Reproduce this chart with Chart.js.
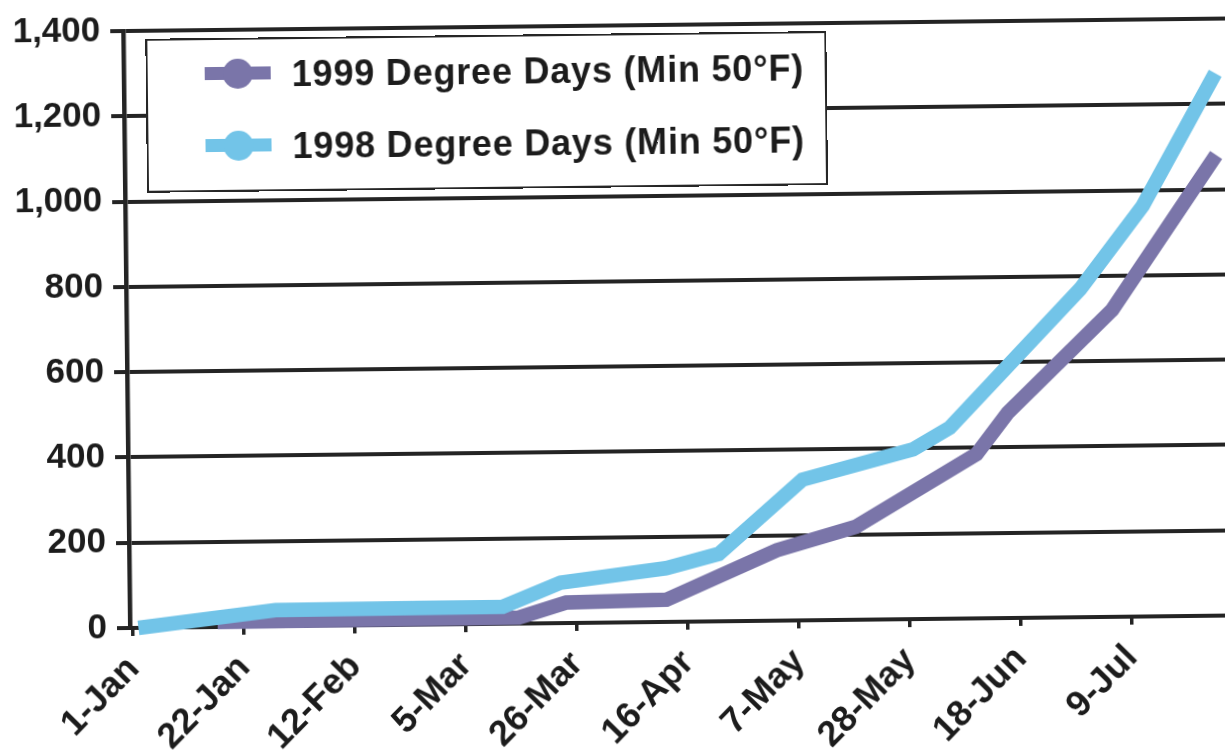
<!DOCTYPE html>
<html>
<head>
<meta charset="utf-8">
<title>Degree Days (Min 50°F)</title>
<script src="https://cdn.jsdelivr.net/npm/chart.js@4.4.1/dist/chart.umd.min.js"></script>
<style>
  html, body { margin: 0; padding: 0; background: #fff; width: 1225px; height: 756px; overflow: hidden; }
  #page { position: absolute; left: 0; top: 0; width: 1232px; height: 756px;
          transform-origin: 130px 628px; transform: rotate(-0.65deg); }
  #chart { position: absolute; left: 0; top: 0; }
  #legendBox { position: absolute; left: 152px; top: 39px; width: 681px; height: 154px;
               box-sizing: border-box; border: 2px solid #262626; background: #fff; }
  .legendRow { position: absolute; left: 0; height: 40px; }
  .legendLine { position: absolute; left: 211px; width: 66px; height: 13px; top: 13.5px; }
  .legendDot { position: absolute; left: 229px; width: 30px; height: 30px; top: 5px; border-radius: 50%; }
  .legendText { position: absolute; left: 298px; top: 0; line-height: 40px; white-space: nowrap;
                font: bold 36px "Liberation Sans", Arial, sans-serif; letter-spacing: 0.8px; color: #1c1c1c; }
</style>
</head>
<body>
<div id="page">
  <canvas id="chart" width="1232" height="756"></canvas>
  <div id="legendBox"></div>
</div>
<script>
// Cumulative degree days (base 50°F), read at the dates each series was recorded.
const dates1999  = ['17-Jan', '15-Mar', '24-Mar', '12-Apr', '3-May', '18-May', '10-Jun', '16-Jun', '6-Jul', '26-Jul'];
const values1999 = [12, 14, 48, 52, 165, 218, 385, 481, 720, 1080];

const dates1998  = ['2-Jan', '28-Jan', '12-Mar', '23-Mar', '12-Apr', '22-Apr', '8-May', '29-May', '5-Jun', '30-Jun', '12-Jul', '26-Jul'];
const values1998 = [0, 38, 40, 95, 126, 158, 330, 398, 448, 770, 963, 1272];

const seriesLabels = ['1999 Degree Days (Min 50°F)', '1998 Degree Days (Min 50°F)'];
const seriesColors = ['#7A75A9', '#72C4E8'];

// Date ticks every three weeks along the bottom axis.
const tickLabels = ['1-Jan', '22-Jan', '12-Feb', '5-Mar', '26-Mar', '16-Apr', '7-May', '28-May', '18-Jun', '9-Jul'];
const yMin = 0, yMax = 1400, yStep = 200;

const MONTHS = ['Jan', 'Feb', 'Mar', 'Apr', 'May', 'Jun', 'Jul', 'Aug', 'Sep', 'Oct', 'Nov', 'Dec'];
const MONTH_START = [0, 31, 59, 90, 120, 151, 181, 212, 243, 273, 304, 334];
function dayOfYear(label) {
  const [d, m] = label.split('-');
  return MONTH_START[MONTHS.indexOf(m)] + Number(d) - 1;
}
const toPoints = (dates, values) => dates.map((d, i) => ({ x: dayOfYear(d), y: values[i] }));
const tickDays = tickLabels.map(dayOfYear);

const INK = '#242424';
const FONT = '"Liberation Sans", Arial, sans-serif';

const lineStyle = { borderWidth: 14.5, pointRadius: 0, pointHoverRadius: 0, tension: 0,
                    fill: false, clip: false, borderCapStyle: 'butt', borderJoinStyle: 'miter' };

const chart = new Chart(document.getElementById('chart'), {
  type: 'line',
  data: {
    datasets: [
      Object.assign({ label: seriesLabels[0], data: toPoints(dates1999, values1999),
        borderColor: seriesColors[0], backgroundColor: seriesColors[0], order: 1 }, lineStyle),
      Object.assign({ label: seriesLabels[1], data: toPoints(dates1998, values1998),
        borderColor: seriesColors[1], backgroundColor: seriesColors[1], order: 0 }, lineStyle)
    ]
  },
  options: {
    responsive: false,
    animation: false,
    devicePixelRatio: 1,
    layout: { padding: { top: 22, right: 0, bottom: 0, left: 0 } },
    plugins: { legend: { display: false }, tooltip: { enabled: false } },
    scales: {
      x: {
        type: 'linear',
        min: -0.6,
        max: 208,
        afterBuildTicks: s => { s.ticks = tickDays.map(v => ({ value: v })); },
        afterFit: s => { s.height = 128; },
        grid: { drawOnChartArea: false, drawTicks: true, tickLength: 8, color: INK, lineWidth: 3.5 },
        border: { display: true, color: INK, width: 4 },
        ticks: {
          autoSkip: false, maxRotation: 45, minRotation: 45, padding: 12,
          color: '#1c1c1c', font: { family: FONT, size: 36, weight: 'bold' },
          callback: (v, i) => tickLabels[i]
        }
      },
      y: {
        min: yMin,
        max: yMax,
        afterFit: s => { s.width = 130; },
        grid: { color: INK, lineWidth: 4, drawTicks: true, tickLength: 13 },
        border: { display: true, color: INK, width: 4.5 },
        ticks: {
          stepSize: yStep, padding: 10,
          color: '#1c1c1c', font: { family: FONT, size: 35, weight: 'bold' },
          callback: v => v.toLocaleString('en-US')
        }
      }
    }
  }
});

// Legend rows built from the datasets, listed in dataset order.
const page = document.getElementById('page');
const rowCenters = [74.5, 146.5];
chart.data.datasets.forEach((ds, i) => {
  const row = document.createElement('div');
  row.className = 'legendRow';
  row.style.top = (rowCenters[i] - 20) + 'px';
  const line = document.createElement('div');
  line.className = 'legendLine';
  line.style.background = ds.borderColor;
  const dot = document.createElement('div');
  dot.className = 'legendDot';
  dot.style.background = ds.borderColor;
  const text = document.createElement('div');
  text.className = 'legendText';
  text.textContent = ds.label;
  row.append(line, dot, text);
  page.appendChild(row);
});
</script>
</body>
</html>
